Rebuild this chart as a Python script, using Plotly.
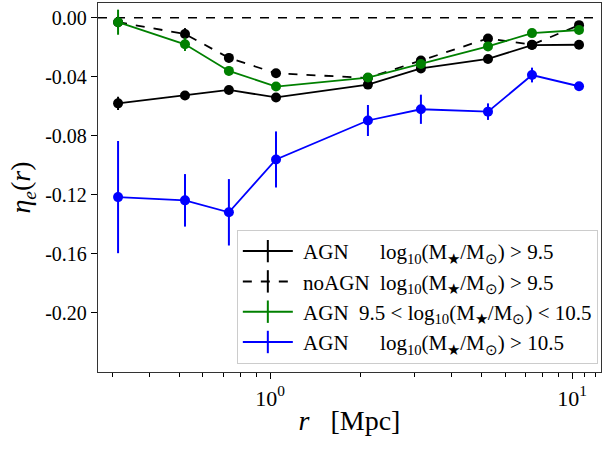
import plotly.graph_objects as go

# ---- data ----
r = [0.314, 0.523, 0.731, 1.047, 2.11, 3.16, 5.27, 7.37, 10.55]

agn_all = [-0.0580, -0.0527, -0.0489, -0.0540, -0.0453, -0.0343, -0.0279, -0.0185, -0.0183]
agn_all_err = [0.0045, 0.0030, 0.0025, 0.0025, 0.0020, 0.0020, 0.0020, 0.0020, 0.0015]

noagn_all = [-0.0030, -0.0110, -0.0272, -0.0376, -0.0408, -0.0290, -0.0140, -0.0183, -0.0050]
noagn_all_err = [0.0040, 0.0040, 0.0030, 0.0020, 0.0020, 0.0020, 0.0020, 0.0020, 0.0015]

agn_mid = [-0.0030, -0.0180, -0.0360, -0.0466, -0.0405, -0.0313, -0.0194, -0.0104, -0.0083]
agn_mid_err = [0.0085, 0.0045, 0.0030, 0.0020, 0.0020, 0.0020, 0.0020, 0.0015, 0.0015]

agn_high = [-0.1215, -0.1237, -0.1318, -0.0960, -0.0696, -0.0620, -0.0636, -0.0388, -0.0464]
agn_high_err = [0.0380, 0.0178, 0.0225, 0.0190, 0.0105, 0.0099, 0.0056, 0.0050, 0.0020]

SP = "\u00a0"
MASS = "log<sub>10</sub>(M<sub>★</sub>/M<sub>⊙</sub>)"
labels = [
    SP + "AGN" + SP * 6 + MASS + " > 9.5",
    SP + "noAGN" + SP * 2 + MASS + " > 9.5",
    SP + "AGN" + SP * 2 + "9.5 < " + MASS + " < 10.5",
    SP + "AGN" + SP * 6 + MASS + " > 10.5",
]

y_tickvals = [0.0, -0.04, -0.08, -0.12, -0.16, -0.20]
y_ticktext = ["0.00", "-0.04", "-0.08", "-0.12", "-0.16", "-0.20"]
x_tickvals = [1, 10]
x_ticktext = ["10<sup>0</sup>", "10<sup>1</sup>"]
x_minor = [0.3, 0.4, 0.5, 0.6, 0.7, 0.8, 0.9, 2, 3, 4, 5, 6, 7, 8, 9, 11, 12]

series = [
    (agn_all, agn_all_err, "black", "solid"),
    (noagn_all, noagn_all_err, "black", "dash"),
    (agn_mid, agn_mid_err, "green", "solid"),
    (agn_high, agn_high_err, "blue", "solid"),
]

FONT = "Liberation Serif"
fig = go.Figure()

# zero line
fig.add_hline(y=0, line=dict(color="black", width=1.6, dash="dash"), layer="below")

for (vals, errs, col, dash) in series:
    fig.add_trace(go.Scatter(
        x=r, y=vals, mode="lines+markers",
        line=dict(color=col, width=1.8, dash=dash if dash == "dash" else None),
        marker=dict(color=col, size=10),
        error_y=dict(type="data", array=errs, color=col, thickness=2, width=0),
        showlegend=False,
    ))

# legend-only entries (line + vertical bar)
for (vals, errs, col, dash), lab in zip(series, labels):
    fig.add_trace(go.Scatter(
        x=[None], y=[None], mode="lines+markers", name=lab,
        line=dict(color=col, width=2, dash=dash if dash == "dash" else None),
        marker=dict(symbol="line-ns", size=20, line=dict(color=col, width=2)),
    ))

# minor ticks via overlaying axis
fig.add_trace(go.Scatter(x=[None], y=[None], xaxis="x2", showlegend=False))

fig.update_layout(
    width=604, height=449,
    margin=dict(l=98, r=3, t=3, b=77),
    paper_bgcolor="white", plot_bgcolor="white",
    font=dict(family=FONT, color="black", size=19),
    xaxis=dict(
        type="log", range=[-0.5695, 1.096], automargin=False,
        tickvals=x_tickvals, ticktext=x_ticktext,
        ticks="outside", ticklen=6, tickwidth=1.2, tickcolor="black",
        showline=True, linecolor="#333", linewidth=1.3, mirror=True,
        showgrid=False, zeroline=False,
        tickfont=dict(size=22),
        title=dict(text="<i>r</i>   [Mpc]", font=dict(size=28), standoff=0),
    ),
    xaxis2=dict(
        type="log", range=[-0.5695, 1.096], overlaying="x", side="bottom",
        tickvals=x_minor, showticklabels=False, automargin=False,
        ticks="outside", ticklen=3.5, tickwidth=1, tickcolor="black",
        showgrid=False, zeroline=False, showline=False,
    ),
    yaxis=dict(
        range=[-0.24, 0.01], automargin=False,
        tickvals=y_tickvals, ticktext=y_ticktext,
        ticks="outside", ticklen=6, tickwidth=1.2, tickcolor="black",
        showline=True, linecolor="#333", linewidth=1.3, mirror=True,
        showgrid=False, zeroline=False,
        tickfont=dict(size=20),
        title=dict(text="<i>η<sub>e</sub></i>(<i>r</i>)", font=dict(size=28), standoff=6),
    ),
    legend=dict(
        x=0.276, y=0.385, xanchor="left", yanchor="top",
        bgcolor="white", bordercolor="#cccccc", borderwidth=1,
        font=dict(size=21), itemwidth=50,
    ),
)

fig.write_html("out.html", config={"displayModeBar": False},
               post_script="document.body.style.margin='0px';")
